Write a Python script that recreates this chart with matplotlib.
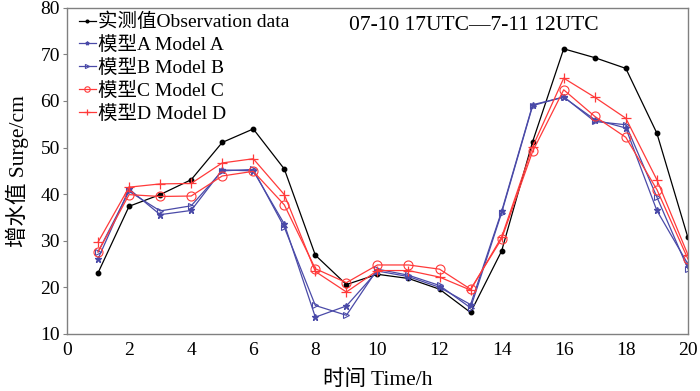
"""Surge observation vs. four model runs, 07-10 17UTC to 07-11 12UTC."""
import matplotlib
matplotlib.use("Agg")
import matplotlib.pyplot as plt
import numpy as np

# -----------------------------------------------------------------------------
# Data
# -----------------------------------------------------------------------------
hours = np.arange(1, 21)
obs = [23.1, 37.4, 39.9, 43.1, 51.1, 54.0, 45.4, 26.9, 20.6, 22.8,
       21.9, 19.6, 14.6, 27.8, 51.3, 71.2, 69.3, 67.0, 53.1, 30.7]
model_a = [26.1, 41.1, 35.6, 36.5, 45.2, 45.0, 33.6, 13.6, 16.0, 23.5,
           22.3, 20.0, 16.3, 36.3, 59.2, 60.8, 56.0, 54.2, 36.5, 25.0]
model_b = [27.6, 40.6, 36.4, 37.5, 45.0, 45.3, 32.9, 16.1, 14.0, 23.9,
           22.6, 20.4, 15.6, 36.0, 59.0, 60.9, 55.6, 54.9, 39.4, 24.0]
model_c = [27.6, 39.9, 39.5, 39.6, 43.9, 44.9, 37.7, 24.0, 21.0, 24.8,
           24.8, 23.9, 19.6, 30.4, 49.2, 62.4, 56.7, 52.2, 41.0, 26.1]
model_d = [29.7, 41.5, 42.2, 42.3, 46.7, 47.6, 39.9, 23.4, 19.0, 23.6,
           23.6, 22.2, 19.4, 30.8, 50.2, 64.9, 60.8, 56.3, 43.1, 27.0]

labels = ["实测值Observation data", "模型A Model A", "模型B Model B",
          "模型C Model C", "模型D Model D"]
period = "07-10 17UTC—7-11 12UTC"

# -----------------------------------------------------------------------------
# Plot
# -----------------------------------------------------------------------------
plt.rcParams["font.family"] = ["Liberation Serif", "Noto Sans CJK SC"]
blue = "#4a4aa8"
red = "#ff3a3a"

fig = plt.figure(figsize=(7.0, 3.91), dpi=100)
ax = fig.add_axes([0.0957, 0.146, 0.887, 0.834])

ax.plot(hours, obs, color="black", lw=0.9, marker="o", ms=3.2, label=labels[0])
ax.plot(hours, model_a, color=blue, lw=0.9, marker="*", ms=4.5, label=labels[1])
ax.plot(hours, model_b, color=blue, lw=0.9, marker=">", ms=5, mfc="none",
        mew=0.8, label=labels[2])
ax.plot(hours, model_c, color=red, lw=0.9, marker="o", ms=6.5, mfc="none",
        mew=0.8, label=labels[3])
ax.plot(hours, model_d, color=red, lw=0.9, marker="+", ms=7.5, mew=0.9,
        label=labels[4])

ax.set_xlim(0, 20)
ax.set_ylim(10, 80)
ax.set_xticks(np.arange(0, 21, 2))
ax.set_yticks(np.arange(10, 81, 10))
ax.tick_params(axis="both", labelsize=14, colors="black")
ax.tick_params(axis="y", length=3, width=0.8, color="#808080", pad=2)
ax.tick_params(axis="x", length=0, pad=6)
for s in ax.spines.values():
    s.set_color("#808080")
    s.set_linewidth(1.0)

ax.set_xlabel("时间 Time/h", fontsize=15.5, labelpad=8)
ax.set_ylabel("增水值 Surge/cm", fontsize=15.5, labelpad=8)

leg = ax.legend(loc="upper left", bbox_to_anchor=(0.0, 1.02), frameon=False,
                fontsize=14, handlelength=0.9, handletextpad=0.1,
                labelspacing=0.24, borderaxespad=0.2, markerscale=0.6)
ax.text(0.4536, 0.975, period, transform=ax.transAxes, fontsize=15.5,
        va="top", ha="left")

fig.savefig("out.png", dpi=100)
plt.close(fig)
